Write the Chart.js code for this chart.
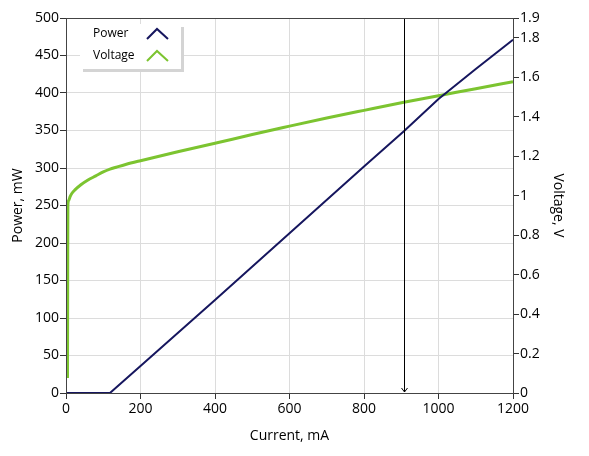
<!DOCTYPE html>
<html>
<head>
<meta charset="utf-8">
<script src="https://cdn.jsdelivr.net/npm/chart.js@4/dist/chart.umd.min.js"></script>
<style>
  html, body { margin: 0; padding: 0; background: #ffffff; }
  #wrap { width: 589px; height: 456px; }
</style>
</head>
<body>
<div id="wrap"><canvas id="ivChart"></canvas></div>
<script>
// Power curve (left axis)
const powerCurrent = [0, 118, 200, 400, 600, 800, 907, 1000, 1100, 1200];
const powerValues = [0, 0, 36, 124, 213, 302, 349, 392, 432, 471];

// Voltage curve (right axis)
const voltCurrent = [4, 4.5, 5, 7, 11, 16, 24, 40, 59, 80, 100, 118, 140, 160, 200, 300, 400, 500, 600, 700, 800, 907, 1000, 1100, 1200];
const voltValues = [0.076, 0.6, 0.95, 0.975, 0.995, 1.012, 1.029, 1.055, 1.079, 1.10, 1.12, 1.134, 1.147, 1.158, 1.177, 1.222, 1.265, 1.31, 1.352, 1.393, 1.432, 1.473, 1.506, 1.542, 1.577];

// Tick labels
const xTicks = [0, 200, 400, 600, 800, 1000, 1200];
const powerTicks = [0, 50, 100, 150, 200, 250, 300, 350, 400, 450, 500];
const voltTicks = [0, 0.2, 0.4, 0.6, 0.8, 1, 1.2, 1.4, 1.6, 1.8, 1.9];

// Cursor position (mA)
const cursorCurrent = 907;

const FONT = '"Open Sans", "Noto Sans", sans-serif';

function toPoints(xs, ys) {
    return xs.map((x, i) => ({ x: x, y: ys[i] }));
}

function setTicks(values) {
    return function (axis) {
        axis.ticks = values.map(v => ({ value: v }));
    };
}

// plain number, no thousands separator
function plainLabel(value) {
    return String(Math.round(value * 10) / 10);
}

// Frame, cursor line and legend box
const extrasPlugin = {
    id: 'extras',
    afterDatasetsDraw(chart) {
        const ctx = chart.ctx;
        const area = chart.chartArea;
        const xs = chart.scales.x;

        // cursor
        const cx = Math.round(xs.getPixelForValue(cursorCurrent)) + 0.5;
        ctx.save();
        ctx.strokeStyle = '#000000';
        ctx.lineWidth = 1;
        ctx.beginPath();
        ctx.moveTo(cx, area.top);
        ctx.lineTo(cx, area.bottom - 1);
        ctx.moveTo(cx - 3, area.bottom - 5);
        ctx.lineTo(cx, area.bottom - 1);
        ctx.lineTo(cx + 3, area.bottom - 5);
        ctx.stroke();

        // frame
        ctx.strokeStyle = '#444444';
        ctx.strokeRect(Math.round(area.left) + 0.5, Math.round(area.top) + 0.5,
            Math.round(area.width), Math.round(area.height));

        // legend
        const lx = area.left + 14, ly = area.top + 6, lw = 101, lh = 45;
        ctx.fillStyle = '#d4d4d4';
        ctx.fillRect(lx + 3, ly + 3, lw, lh);
        ctx.fillStyle = '#ffffff';
        ctx.fillRect(lx, ly, lw, lh);
        ctx.font = '12px ' + FONT;
        ctx.textBaseline = 'middle';
        chart.data.datasets.forEach((ds, i) => {
            const yy = ly + 10 + i * 22;
            ctx.fillStyle = '#000000';
            ctx.fillText(ds.label, lx + 13, yy);
            ctx.strokeStyle = ds.borderColor;
            ctx.lineWidth = 2;
            ctx.beginPath();
            ctx.moveTo(lx + 67, yy + 5);
            ctx.lineTo(lx + 77, yy - 5);
            ctx.lineTo(lx + 88, yy + 5);
            ctx.stroke();
        });
        ctx.restore();
    }
};

const ctx = document.getElementById('ivChart').getContext('2d');

new Chart(ctx, {
    type: 'line',
    data: {
        datasets: [
            {
                label: 'Power',
                data: toPoints(powerCurrent, powerValues),
                borderColor: '#16165e',
                borderWidth: 2,
                pointRadius: 0,
                tension: 0,
                yAxisID: 'y',
                clip: false
            },
            {
                label: 'Voltage',
                data: toPoints(voltCurrent, voltValues),
                borderColor: '#7cc430',
                borderWidth: 3,
                pointRadius: 0,
                cubicInterpolationMode: 'monotone',
                yAxisID: 'y2',
                clip: false
            }
        ]
    },
    options: {
        responsive: true,
        maintainAspectRatio: false,
        animation: false,
        layout: { padding: { top: 18, left: 0, right: 0, bottom: 0 } },
        plugins: {
            legend: { display: false },
            tooltip: { enabled: false }
        },
        scales: {
            x: {
                type: 'linear',
                min: 0,
                max: 1200,
                afterBuildTicks: setTicks(xTicks),
                afterFit(scale) { scale.height = 63; },
                grid: { color: '#dcdcdc', tickColor: '#333333', tickLength: 6 },
                border: { color: '#444444' },
                ticks: { color: '#000000', font: { family: FONT, size: 14 }, padding: 2, callback: plainLabel },
                title: { display: true, text: 'Current, mA', color: '#000000',
                    font: { family: FONT, size: 14 }, padding: { top: 0, bottom: 12 } }
            },
            y: {
                position: 'left',
                min: 0,
                max: 500,
                afterBuildTicks: setTicks(powerTicks),
                afterFit(scale) { scale.width = 66; },
                grid: { color: '#dcdcdc', tickColor: '#333333', tickLength: 6 },
                border: { color: '#444444' },
                ticks: { color: '#000000', font: { family: FONT, size: 14 }, padding: 1, callback: plainLabel },
                title: { display: true, text: 'Power, mW', color: '#000000',
                    font: { family: FONT, size: 14 }, padding: { top: 10, bottom: 0 } }
            },
            y2: {
                position: 'right',
                min: 0,
                max: 1.9,
                afterBuildTicks: setTicks(voltTicks),
                afterFit(scale) { scale.width = 76; },
                grid: { drawOnChartArea: false, tickColor: '#333333', tickLength: 6 },
                border: { color: '#444444' },
                ticks: { color: '#000000', font: { family: FONT, size: 14 }, padding: 1, callback: plainLabel },
                title: { display: true, text: 'Voltage, V', color: '#000000',
                    font: { family: FONT, size: 14 }, padding: { top: 23, bottom: 0 } }
            }
        }
    },
    plugins: [extrasPlugin]
});
</script>
</body>
</html>
